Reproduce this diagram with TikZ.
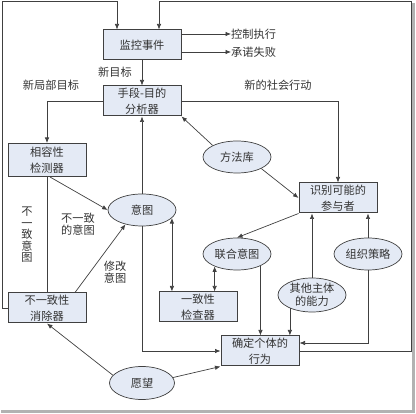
\documentclass[tikz,border=0pt]{standalone}
\usepackage{fontspec}
\newfontfamily\cjk{Noto Sans CJK SC}
\usetikzlibrary{shapes.geometric,arrows.meta}
\definecolor{boxfill}{HTML}{E4EAF5}
\definecolor{linegray}{HTML}{404040}
\begin{document}
\begin{tikzpicture}[x=1pt,y=-1pt,font=\cjk\fontsize{11.2}{16}\selectfont,text=black!80,>={Latex[length=5.5pt,width=4.5pt]}]
    \tikzset{b/.style={draw=linegray, fill=boxfill, line width=1pt, minimum width=78pt, minimum height=30pt, inner sep=1pt, align=center},
             e/.style={ellipse, draw=linegray, fill=boxfill, line width=0.7pt, minimum width=68pt, minimum height=32pt, inner sep=0pt, align=center},
             lbl/.style={align=center, inner sep=0pt, font=\cjk\fontsize{11.2}{12.5}\selectfont},
             c/.style={draw=linegray, line width=0.7pt}}
    \useasboundingbox (0,0) rectangle (416,414);
    \draw[gray!60, line width=2.5pt] (413.5,3) -- (413.5,411.5) -- (1,411.5);
    \node[b] (jiankong) at (142,45) {监控事件};
    \node[b] (fenxi) at (142,101) {手段-目的\\分析器};
    \node[b, minimum height=33pt] (xiangrong) at (47,160) {相容性\\检测器};
    \node[b] (xiaochu) at (47,308) {不一致性\\消除器};
    \node[b] (shibie) at (338,198) {识别可能的\\参与者};
    \node[b] (yizhi) at (198,307) {一致性\\检查器};
    \node[b] (jueding) at (260,351) {确定个体的\\行为};
    \node[e] (yitu) at (142,210) {意图};
    \node[e] (fangfa) at (237,157) {方法库};
    \node[e] (lianhe) at (237,254) {联合意图};
    \node[e] (zuzhi) at (368,254) {组织策略};
    \node[e, minimum height=34pt, font=\cjk\fontsize{11.2}{13}\selectfont] (qita) at (312,295) {其他主体\\的能力};
    \node[e, minimum width=65pt, minimum height=33pt] (yuanwang) at (142,383) {愿望};
    \node[anchor=west, inner sep=0pt] (kongzhi) at (231,34) {控制执行};
    \node[anchor=west, inner sep=0pt] (chengnuo) at (231,52) {承诺失败};
    \node[lbl] (xinmubiao) at (115,72) {新目标};
    \node[lbl] (jubu) at (51,85) {新局部目标};
    \node[lbl] (shehui) at (278,85) {新的社会行动};
    \node[lbl] (buyizhi) at (78,224) {不一致\\的意图};
    \node[lbl, font=\cjk\fontsize{11.2}{11.5}\selectfont] (shuxiang) at (27,235) {不\\一\\致\\意\\图};
    \node[lbl] (xiugai) at (115,272) {修改\\意图};
    \coordinate (lt) at (2,1);
    \coordinate (rt) at (411,1);
    \draw[c, ->] (jiankong.east |- kongzhi) -- (kongzhi.west);
    \draw[c, ->] (jiankong.east |- chengnuo) -- (chengnuo.west);
    \draw[c, ->] (jiankong) -- (fenxi);
    \draw[c, ->] (fenxi.west) -| (xiangrong.north);
    \draw[c, ->] (fenxi.east) -| (shibie.north);
    \draw[c, ->] (yitu.north) -- (fenxi.south);
    \draw[c, ->] (fangfa.north west) -- (fenxi.south east);
    \draw[c, ->] (fangfa.south east) -- (shibie.west);
    \draw[c, ->] ([xshift=3pt]xiangrong.south) -- (yitu.west);
    \draw[c] (xiangrong.south) -- (xiaochu.north);
    \draw[c, ->] ([xshift=28pt]xiaochu.north) -- (yitu.-139);
    \draw[c, ->] (yitu.south) |- (jueding.west);
    \draw[c, <->] (yitu.-15) -- (yitu.-15 |- yizhi.north);
    \draw[c, <->] (lianhe.-151) -- (lianhe.-151 |- yizhi.north);
    \draw[c, ->] (shibie.south west) -- (lianhe.north);
    \draw[c, ->] (zuzhi.north) -- (zuzhi.north |- shibie.south);
    \draw[c, ->] (qita.north) -- (qita.north |- shibie.south);
    \draw[c, ->] (qita.-149) -- (qita.-149 |- jueding.north);
    \draw[c, ->] (lianhe.-27) -- (lianhe.-27 |- jueding.north);
    \draw[c, ->] (zuzhi.south) |- ([yshift=8pt]jueding.east);
    \draw[c, ->] (yuanwang.165) -- (xiaochu.south);
    \draw[c, ->] (yuanwang.10) -- (jueding.south west);
    \draw[c, ->] (xiaochu.west) -| (lt) -| ([xshift=-25pt]jiankong.north);
    \draw[c, ->] (jueding.east) -| (rt) -| ([xshift=17pt]jiankong.north);
\end{tikzpicture}
\end{document}
